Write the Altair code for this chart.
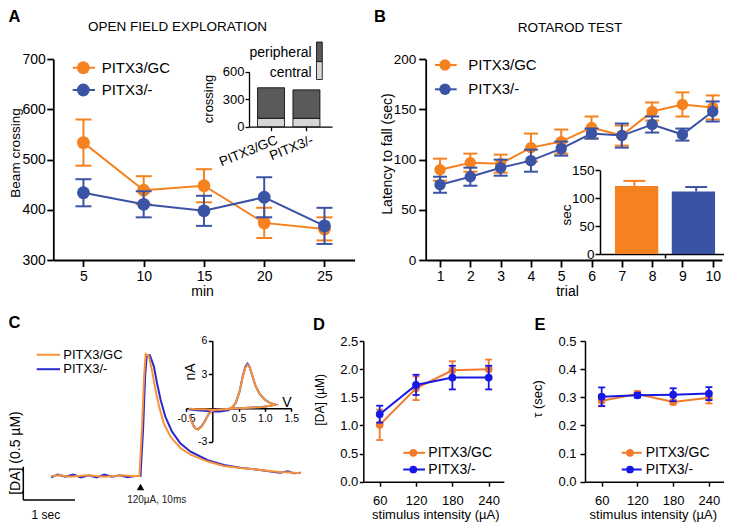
import json
import altair as alt
import pandas as pd

W, H = 716, 517
FONT = "Liberation Sans, Arial, Helvetica, sans-serif"

# ---------------- data ----------------
GROUPS = ["PITX3/GC", "PITX3/-"]

# A: open field
A_MIN = [5, 10, 15, 20, 25]
A_GC_MEAN = [534, 439, 448, 374, 362]
A_GC_SEM = [46, 28, 33, 30, 23]
A_KO_MEAN = [434, 411, 398, 425, 368]
A_KO_SEM = [27, 26, 30, 40, 36]
A_PARTS = ["central", "peripheral"]
A_CENTRAL = [92, 92]
A_PERIPHERAL = [333, 310]

# B: rotarod
B_TRIAL = [1, 2, 3, 4, 5, 6, 7, 8, 9, 10]
B_GC_MEAN = [90, 97, 96, 112, 118, 132, 124, 148, 155, 152]
B_GC_SEM = [11, 9, 9, 14, 12, 11, 10, 9, 12, 12]
B_KO_MEAN = [75, 83, 92, 99, 111, 126, 124, 135, 125, 148]
B_KO_SEM = [8, 9, 8, 11, 7, 5, 12, 8, 6, 10]
B_INSET_MEAN = [122, 112]
B_INSET_SEM = [9, 8]

# C: voltammetry traces (time in s, [DA] in uM)
C_T_GC = [-1.73, -1.55, -1.38, -1.2, -1.03, -0.86, -0.69, -0.52, -0.35, -0.17, -0.02,
          0.03, 0.07, 0.10, 0.16, 0.22, 0.29, 0.36, 0.45, 0.58, 0.77, 0.97, 1.29, 1.61,
          1.93, 2.2, 2.45, 2.7, 2.97, 3.1]
C_DA_GC = [0.0, 0.01, -0.01, 0.0, 0.01, 0.0, -0.01, 0.0, 0.01, 0.0, 0.0,
           0.75, 1.5, 1.83, 1.80, 1.59, 1.29, 1.04, 0.79, 0.59, 0.42, 0.32, 0.22, 0.15,
           0.12, 0.10, 0.08, 0.06, 0.05, 0.04]
C_T_KO = [-1.73, -1.6, -1.45, -1.3, -1.15, -1.0, -0.85, -0.7, -0.55, -0.4, -0.25, -0.1,
          0.0, 0.05, 0.09, 0.12, 0.18, 0.26, 0.32, 0.39, 0.48, 0.61, 0.77, 0.97, 1.29,
          1.61, 1.93, 2.2, 2.45, 2.7, 2.85, 2.97, 3.1]
C_DA_KO = [-0.02, 0.02, -0.01, 0.02, -0.02, 0.01, -0.02, 0.02, -0.01, 0.01, -0.02, 0.0,
           0.0, 0.7, 1.5, 1.8, 1.81, 1.64, 1.39, 1.14, 0.89, 0.665, 0.49, 0.365, 0.24,
           0.165, 0.125, 0.10, 0.075, 0.05, 0.07, 0.04, 0.05]
C_STIM_T = [0.0]

# C inset: cyclic voltammograms (V, nA)
C_V_GC = [-0.45, -0.3, -0.15, 0.0, 0.15, 0.3, 0.38, 0.45, 0.52, 0.58, 0.63, 0.67, 0.71,
          0.76, 0.82, 0.9, 1.0, 1.1, 1.2,
          1.1, 0.95, 0.8, 0.6, 0.4, 0.2, 0.05, 0.0, -0.04, -0.08, -0.14, -0.2, -0.27,
          -0.32, -0.36, -0.4, -0.43]
C_I_GC = [-0.05, -0.1, -0.1, -0.15, -0.15, -0.1, 0.1, 0.5, 1.5, 2.8, 3.6, 3.85, 3.6,
          2.9, 2.0, 1.25, 0.75, 0.45, 0.3,
          0.2, 0.1, 0.05, 0.0, -0.05, -0.1, -0.15, -0.25, -0.4, -0.6, -1.19, -1.64, -1.94,
          -1.85, -1.6, -1.1, -0.65]
C_V_KO = [-0.45, -0.3, -0.15, 0.0, 0.15, 0.3, 0.38, 0.45, 0.52, 0.58, 0.63, 0.67, 0.71,
          0.76, 0.82, 0.9, 1.0, 1.1, 1.2,
          1.1, 0.95, 0.8, 0.6, 0.4, 0.2, 0.05, 0.0, -0.04, -0.08, -0.14, -0.2, -0.27,
          -0.32, -0.36, -0.4, -0.43]
C_I_KO = [-0.1, -0.2, -0.25, -0.3, -0.3, -0.2, 0.05, 0.5, 1.5, 2.85, 3.7, 3.95, 3.65,
          2.9, 2.0, 1.25, 0.75, 0.45, 0.3,
          0.2, 0.1, 0.05, 0.0, -0.05, -0.1, -0.15, -0.25, -0.4, -0.6, -1.15, -1.6, -1.9,
          -1.82, -1.55, -1.05, -0.6]

# D, E
STIM = [60, 120, 180, 240]
D_GC_MEAN = [1.01, 1.66, 1.98, 2.0]
D_GC_SEM = [0.27, 0.21, 0.16, 0.17]
D_KO_MEAN = [1.2, 1.72, 1.85, 1.85]
D_KO_SEM = [0.15, 0.18, 0.21, 0.21]
E_GC_MEAN = [0.288, 0.312, 0.283, 0.298]
E_GC_SEM = [0.02, 0.01, 0.008, 0.02]
E_KO_MEAN = [0.302, 0.307, 0.309, 0.313]
E_KO_SEM = [0.033, 0.008, 0.023, 0.023]

# ---------------- styles ----------------
ORANGE, BLUE = "#F5821F", "#3B53A4"
ORANGE_C, BLUE_C = "#F7933A", "#2A2ACF"
ORANGE_D, BLUE_D = "#F27A2A", "#1818E6"


def px(v):
    return v - 8


def sc(domain, r0, r1):
    return alt.Scale(domain=domain, range=[px(r0), px(r1)], nice=False, zero=False)


def _axis(orient, offset, values, fs, tick, pad, w, fmt=None, **extra):
    kw = dict(orient=orient, offset=offset, values=values, labelFont=FONT,
              labelFontSize=fs, labelColor="black", tickSize=tick, labelPadding=pad,
              domainColor="black", tickColor="black", domainWidth=w, tickWidth=w,
              grid=False, title=None, labelFlush=False, labelOverlap=False)
    if fmt:
        kw["format"] = fmt
    kw.update(extra)
    return alt.Axis(**kw)


def yaxis(x, values, fs=14, tick=6, pad=2, w=1.5, fmt=None, **extra):
    return _axis("left", -px(x), values, fs, tick, pad, w, fmt, **extra)


def xaxis(y, values, fs=14, tick=6, pad=3, w=1.5, fmt=None, **extra):
    return _axis("bottom", px(y) - H, values, fs, tick, pad, w, fmt, **extra)


def text(s, x, y, fs=14, angle=None, align="center", baseline="middle",
         weight="normal", color="black"):
    kw = dict(font=FONT, fontSize=fs, align=align, baseline=baseline,
              fontWeight=weight, color=color)
    if angle is not None:
        kw["angle"] = angle
    return alt.Chart(pd.DataFrame({"t": [s]})).mark_text(**kw).encode(
        text="t:N", x=alt.value(px(x)), y=alt.value(px(y)))


def series(xv, mean, sem, xsc, ysc, color, size, cap, sw=2.0, ew=2.0, xax=None, yax=None):
    lo = [m - s for m, s in zip(mean, sem)]
    hi = [m + s for m, s in zip(mean, sem)]
    df = pd.DataFrame({"x": xv, "m": mean, "lo": lo, "hi": hi})
    caps = pd.DataFrame({"x": list(xv) * 2, "c": lo + hi})
    out = [
        alt.Chart(df).mark_line(color=color, strokeWidth=sw).encode(
            x=alt.X("x:Q", scale=xsc, axis=xax), y=alt.Y("m:Q", scale=ysc, axis=yax)),
        alt.Chart(df).mark_rule(color=color, strokeWidth=ew).encode(
            x=alt.X("x:Q", scale=xsc, axis=None), y=alt.Y("lo:Q", scale=ysc, axis=None),
            y2="hi:Q"),
        alt.Chart(caps).mark_tick(color=color, orient="horizontal", size=cap,
                                  thickness=ew, opacity=1).encode(
            x=alt.X("x:Q", scale=xsc, axis=None), y=alt.Y("c:Q", scale=ysc, axis=None)),
        alt.Chart(df).mark_point(color=color, filled=True, size=size, opacity=1,
                                 shape="circle").encode(
            x=alt.X("x:Q", scale=xsc, axis=None), y=alt.Y("m:Q", scale=ysc, axis=None)),
    ]
    return out


def legend_row(name, color, y, xl0, xl1, xm, xt, size, fs, sw=2.0, marker=True):
    out = [alt.Chart(pd.DataFrame({"n": [name]})).mark_rule(color=color, strokeWidth=sw).encode(
        x=alt.value(px(xl0)), x2=alt.value(px(xl1)), y=alt.value(px(y)))]
    if marker:
        out.append(alt.Chart(pd.DataFrame({"n": [name]})).mark_point(
            color=color, filled=True, size=size, opacity=1, shape="circle").encode(
            x=alt.value(px(xm)), y=alt.value(px(y))))
    out.append(text(name, xt, y, fs, align="left"))
    return out


layers = []

# ================= Panel A =================
xa = sc([2.5, 27.5], 53.3, 354.6)
ya = sc([300, 700], 260, 59.3)
layers += series(A_MIN, A_GC_MEAN, A_GC_SEM, xa, ya, ORANGE, 165, 16,
                 xax=xaxis(260, A_MIN, fs=14, tick=6.5, pad=3, w=1.8),
                 yax=yaxis(53.3, [300, 400, 500, 600, 700], fs=14, tick=6.5, pad=1.5, w=1.8))
layers += series(A_MIN, A_KO_MEAN, A_KO_SEM, xa, ya, BLUE, 165, 16)
layers += [text("A", 14.5, 17, 16.5, weight="bold"),
           text("OPEN FIELD EXPLORATION", 177.5, 26.7, 13.5),
           text("Beam crossing", 15.5, 153, 13.5, angle=270),
           text("min", 202.5, 292, 14)]
layers += legend_row(GROUPS[0], ORANGE, 67.7, 72.7, 95, 83.3, 101.7, 165, 15)
layers += legend_row(GROUPS[1], BLUE, 90, 72.7, 95, 83.3, 101.7, 165, 15)

# inset A (stacked bars)
xai = sc([-0.48, 1.58], 249, 332)
yai = sc([0, 600], 126.7, 71.7)
rows = []
for i, (c, p) in enumerate(zip(A_CENTRAL, A_PERIPHERAL)):
    rows.append({"i": i, "part": A_PARTS[0], "lo": 0, "hi": c})
    rows.append({"i": i, "part": A_PARTS[1], "lo": c, "hi": c + p})
a_in = pd.DataFrame(rows)
layers.append(alt.Chart(a_in).mark_bar(width=27, orient="vertical", stroke="black",
                                       strokeWidth=0.8).encode(
    x=alt.X("i:Q", scale=xai,
            axis=xaxis(126.7, [0, 1], fs=13.5, tick=4, pad=2, w=1.3,
                       labelExpr=json.dumps(GROUPS) + "[datum.value]",
                       labelAngle=-22, labelAlign="right", labelBaseline="top",
                       labelOffset=3)),
    y=alt.Y("lo:Q", scale=yai, axis=yaxis(249, [0, 300, 600], fs=13, tick=4, pad=1, w=1.3)),
    y2="hi:Q",
    color=alt.Color("part:N", scale=alt.Scale(domain=A_PARTS, range=["#D6D6D6", "#5A5A5A"]),
                    legend=None)))
layers.append(alt.Chart(pd.DataFrame({"n": ["peripheral"]})).mark_rect(
    fill="#5A5A5A", stroke="black", strokeWidth=0.8).encode(
    x=alt.value(px(316.5)), x2=alt.value(px(322.3)), y=alt.value(px(42)), y2=alt.value(px(61.7))))
layers.append(alt.Chart(pd.DataFrame({"n": ["central"]})).mark_rect(
    fill="#D6D6D6", stroke="black", strokeWidth=0.8).encode(
    x=alt.value(px(316.5)), x2=alt.value(px(322.3)), y=alt.value(px(61.7)), y2=alt.value(px(79.5))))
layers += [text("peripheral", 311.7, 53.3, 14, align="right"),
           text("central", 311.7, 72.5, 14, align="right"),
           text("crossing", 209, 99, 13, angle=270)]

# ================= Panel B =================
xb = sc([0.52, 10.3], 425.5, 721.8)
yb = sc([0, 200], 260, 59.3)
layers += series(B_TRIAL, B_GC_MEAN, B_GC_SEM, xb, yb, ORANGE, 130, 14,
                 xax=xaxis(260, B_TRIAL, fs=14, tick=7, pad=2.5, w=1.8),
                 yax=yaxis(425.7, [0, 50, 100, 150, 200], fs=13.5, tick=7, pad=3, w=1.8))
layers += series(B_TRIAL, B_KO_MEAN, B_KO_SEM, xb, yb, BLUE, 130, 14)
layers += [text("B", 380, 17, 16.5, weight="bold"),
           text("ROTAROD TEST", 570, 28.3, 13.5),
           text("Latency to fall (sec)", 387.5, 154, 14, angle=270),
           text("trial", 567.5, 292, 14)]
layers += legend_row(GROUPS[0], ORANGE, 65, 435, 456.7, 445, 468.3, 130, 15)
layers += legend_row(GROUPS[1], BLUE, 89.3, 435, 456.7, 445, 468.3, 130, 15)

# inset B (bars)
xbi = sc([-0.556, 1.45], 600, 724)
ybi = sc([0, 150], 254, 170.3)
b_in = pd.DataFrame({"i": list(range(len(GROUPS))), "g": GROUPS, "m": B_INSET_MEAN,
                     "base": [0] * len(GROUPS),
                     "top": [m + s for m, s in zip(B_INSET_MEAN, B_INSET_SEM)]})
gcol = alt.Color("g:N", scale=alt.Scale(domain=GROUPS, range=[ORANGE, BLUE]), legend=None)
layers.append(alt.Chart(b_in).mark_bar(width=43.3, orient="vertical").encode(
    x=alt.X("i:Q", scale=xbi, axis=xaxis(254, [0.5], fs=13, tick=4, pad=2, w=1.5, labels=False)),
    y=alt.Y("base:Q", scale=ybi, axis=yaxis(600, [0, 50, 100, 150], fs=13.5, tick=5, pad=1, w=1.5)),
    y2="m:Q", color=gcol))
layers.append(alt.Chart(b_in).mark_rule(strokeWidth=2).encode(
    x=alt.X("i:Q", scale=xbi, axis=None), y=alt.Y("m:Q", scale=ybi, axis=None), y2="top:Q",
    color=gcol))
layers.append(alt.Chart(b_in).mark_tick(orient="horizontal", size=22, thickness=2, opacity=1).encode(
    x=alt.X("i:Q", scale=xbi, axis=None), y=alt.Y("top:Q", scale=ybi, axis=None), color=gcol))
layers.append(text("sec", 566.7, 215, 13.5, angle=270))

# ================= Panel C =================
xc = sc([-2, 3.2], 37.1, 305.94)
yc = sc([0, 2], 476, 342.6)
for t, v, col in [(C_T_KO, C_DA_KO, BLUE_C), (C_T_GC, C_DA_GC, ORANGE_C)]:
    df = pd.DataFrame({"t": t, "v": v, "i": list(range(len(t)))})
    layers.append(alt.Chart(df).mark_line(color=col, strokeWidth=2).encode(
        x=alt.X("t:Q", scale=xc, axis=None), y=alt.Y("v:Q", scale=yc, axis=None),
        order="i:Q"))
layers.append(alt.Chart(pd.DataFrame({"t": C_STIM_T})).mark_point(
    shape="triangle-up", filled=True, size=55, color="black", opacity=1).encode(
    x=alt.X("t:Q", scale=xc, axis=None), y=alt.value(px(487))))
layers.append(text("120\u00b5A, 10ms", 156.7, 499.7, 10, color="#222222"))
# scale bar
layers.append(alt.Chart(pd.DataFrame({"n": ["v"]})).mark_rule(color="black", strokeWidth=1.5).encode(
    x=alt.value(px(23.3)), y=alt.value(px(466.7)), y2=alt.value(px(500))))
layers.append(alt.Chart(pd.DataFrame({"n": ["h"]})).mark_rule(color="black", strokeWidth=1.5).encode(
    x=alt.value(px(23.3)), x2=alt.value(px(75)), y=alt.value(px(500))))
layers += [text("C", 14.5, 322.8, 16.5, weight="bold"),
           text("[DA] (0.5 \u00b5M)", 15.5, 453, 14, angle=270),
           text("1 sec", 45.8, 514.5, 12)]
layers += legend_row(GROUPS[0], ORANGE_C, 354.8, 36.7, 60, 0, 63.3, 0, 13, marker=False)
layers += legend_row(GROUPS[1], BLUE_C, 369.2, 36.7, 60, 0, 63.3, 0, 13, marker=False)

# inset C (CV)
xci = sc([-0.5, 1.5], 186, 291.2)
yci = sc([-3, 6], 441.7, 340.7)
fix_minus = "replace(datum.label, '\u2212', '-')"
first = True
for vv, ii, col in [(C_V_KO, C_I_KO, BLUE_C), (C_V_GC, C_I_GC, ORANGE_C)]:
    df = pd.DataFrame({"V": vv, "I": ii, "i": list(range(len(vv)))})
    xax = xaxis(408.3, [-0.5, 0.5, 1.0, 1.5], fs=10.5, tick=3, pad=2, w=1.5, fmt=".1f",
                labelExpr=fix_minus) if first else None
    yax = yaxis(212.3, [-3, 3, 6], fs=10.5, tick=4, pad=1.5, w=1.5,
                labelExpr=fix_minus) if first else None
    layers.append(alt.Chart(df).mark_line(color=col, strokeWidth=2).encode(
        x=alt.X("V:Q", scale=xci, axis=xax), y=alt.Y("I:Q", scale=yci, axis=yax),
        order="i:Q"))
    first = False
layers += [text("nA", 190.5, 372, 14, angle=270), text("V", 287, 402.5, 14)]

# ================= Panel D =================
xd = sc([33, 265], 363.35, 503.85)
yd = sc([0, 2.5], 481.7, 341)
layers += series(STIM, D_GC_MEAN, D_GC_SEM, xd, yd, ORANGE_D, 60, 7, sw=2, ew=1.8,
                 xax=xaxis(481.7, STIM, fs=13, tick=4.5, pad=8, w=1.5),
                 yax=yaxis(363.3, [0, 0.5, 1.0, 1.5, 2.0, 2.5], fs=13, tick=4, pad=1.5,
                           w=1.5, fmt=".1f"))
layers += series(STIM, D_KO_MEAN, D_KO_SEM, xd, yd, BLUE_D, 60, 7, sw=2, ew=1.8)
layers += [text("D", 319, 324.7, 16.5, weight="bold"),
           text("[DA] (\u00b5M)", 320, 399.7, 12, angle=270),
           text("stimulus intensity (\u00b5A)", 435.8, 515.3, 13)]
layers += legend_row(GROUPS[0], ORANGE_D, 452.8, 403.3, 425, 413.3, 428.3, 60, 14)
layers += legend_row(GROUPS[1], BLUE_D, 469.5, 403.3, 425, 413.3, 428.3, 60, 14)

# ================= Panel E =================
xe = sc([32, 265], 585, 723.8)
ye = sc([0, 0.5], 481.7, 341)
layers += series(STIM, E_GC_MEAN, E_GC_SEM, xe, ye, ORANGE_D, 60, 7, sw=2, ew=1.8,
                 xax=xaxis(481.7, STIM, fs=13, tick=4.5, pad=8, w=1.5),
                 yax=yaxis(585, [0, 0.1, 0.2, 0.3, 0.4, 0.5], fs=13, tick=5, pad=4,
                           w=1.5, fmt=".1f"))
layers += series(STIM, E_KO_MEAN, E_KO_SEM, xe, ye, BLUE_D, 60, 7, sw=2, ew=1.8)
layers += [text("E", 540, 325.3, 16.5, weight="bold"),
           text("\u03c4 (sec)", 537.5, 399, 13, angle=270),
           text("stimulus intensity (\u00b5A)", 653.3, 515.3, 13)]
layers += legend_row(GROUPS[0], ORANGE_D, 452.8, 621.7, 641.7, 630, 645.7, 60, 14)
layers += legend_row(GROUPS[1], BLUE_D, 469.5, 621.7, 641.7, 630, 645.7, 60, 14)

chart = (
    alt.layer(*layers)
    .resolve_scale(x="independent", y="independent", color="independent")
    .resolve_axis(x="independent", y="independent")
    .properties(width=W, height=H, autosize=alt.AutoSizeParams(type="none"),
                padding=0, background="white")
    .configure_view(stroke=None)
)
chart.save("out.html", embed_options={"renderer": "svg", "actions": False})
